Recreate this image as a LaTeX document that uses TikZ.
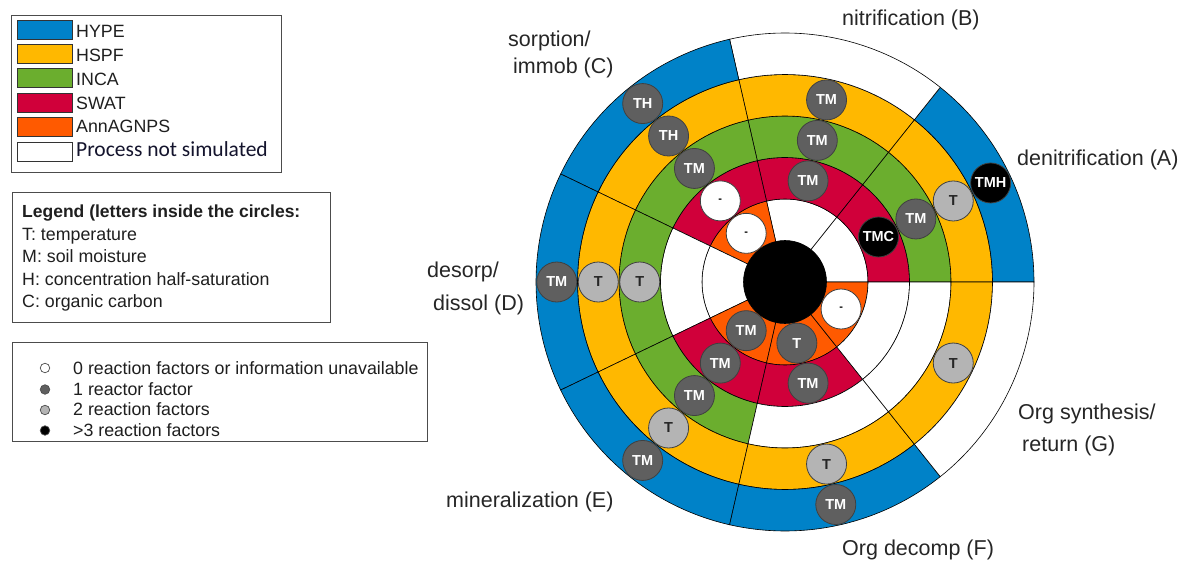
\documentclass[tikz,border=0pt]{standalone}
\usepackage{fontspec}
\setmainfont{Liberation Sans}
\newfontfamily\carl{Carlito}
\definecolor{hype}{RGB}{0,130,200}
\definecolor{hspf}{RGB}{255,184,0}
\definecolor{inca}{RGB}{107,174,46}
\definecolor{swat}{RGB}{208,0,58}
\definecolor{agnps}{RGB}{255,90,0}
\definecolor{dkc}{RGB}{95,95,95}
\definecolor{ltc}{RGB}{180,180,180}
\definecolor{navyish}{RGB}{20,20,45}
\newcommand\wseg[3]{%
  \pgfmathsetmacro\angA{#1*360/7}%
  \pgfmathsetmacro\angB{(#1+1)*360/7}%
  \pgfmathsetmacro\radA{41.5*#2}%
  \pgfmathsetmacro\radB{41.5*(#2+1)}%
  \filldraw[fill=#3, draw=black, line width=0.6pt] (\angA:\radA pt) arc[start angle=\angA, end angle=\angB, radius=\radA pt] -- (\angB:\radB pt) arc[start angle=\angB, end angle=\angA, radius=\radB pt] -- cycle;}
\begin{document}
\begin{tikzpicture}[x=1pt,y=-1pt,
  lbl/.style={anchor=base west, inner sep=0, font=\fontsize{21.5}{26}\selectfont, text=black!85},
  leg/.style={anchor=base west, inner sep=0, font=\fontsize{17.8}{21}\selectfont, text=black!88},
  legbox/.style={draw=black!70, line width=1pt, anchor=north west, inner sep=0},
  swatch/.style={draw=black!80, line width=0.8pt, minimum width=55pt, minimum height=19pt, anchor=north west, inner sep=0},
  mk/.style={circle, minimum size=40pt, inner sep=0, draw=black!75, line width=0.8pt, font=\fontsize{14.5}{17}\selectfont\bfseries},
  dk/.style={mk, fill=dkc, text=white},
  lt/.style={mk, fill=ltc, text=black!85},
  bk/.style={mk, fill=black, text=white},
  wh/.style={mk, fill=white, text=black, font=\fontsize{11}{13}\selectfont\bfseries},
  dot/.style={circle, minimum size=9.5pt, inner sep=0, draw=black!70, line width=0.7pt}]
\useasboundingbox (0,0) rectangle (1187,562);
\fill[white] (0,0) rectangle (1187,562);

% ---- Legend 1
\node[legbox, minimum width=270pt, minimum height=157pt] (box1) at (11,15) {};
\node[swatch, fill=hype]  (sw1) at (17,20) {};
\node[swatch, fill=hspf]  (sw2) at (17,44.2) {};
\node[swatch, fill=inca]  (sw3) at (17,68.4) {};
\node[swatch, fill=swat]  (sw4) at (17,92.6) {};
\node[swatch, fill=agnps] (sw5) at (17,116.8) {};
\node[swatch, fill=white] (sw6) at (17,142) {};
\node[leg] (t1) at (76,37.7) {HYPE};
\node[leg] (t2) at (76,61.5) {HSPF};
\node[leg] (t3) at (76,85.3) {INCA};
\node[leg] (t4) at (76,109.1) {SWAT};
\node[leg] (t5) at (76,132.9) {AnnAGNPS};
\node[anchor=base west, inner sep=0, font=\carl\fontsize{21.5}{26}\selectfont, text=navyish] (t6) at (76,156.7) {Process not simulated};

% ---- Legend 2
\node[legbox, minimum width=318pt, minimum height=130pt] (box2) at (12,192) {};
\node[leg, font=\fontsize{17.5}{21}\selectfont\bfseries] (l0) at (22,217.3) {Legend (letters inside the circles:};
\node[leg] (l1) at (22,240) {T: temperature};
\node[leg] (l2) at (22,262.5) {M: soil moisture};
\node[leg] (l3) at (22,285) {H: concentration half-saturation};
\node[leg] (l4) at (22,307.5) {C: organic carbon};

% ---- Legend 3
\node[legbox, minimum width=415pt, minimum height=99pt] (box3) at (12,342) {};
\node[dot, fill=white] (d0) at (45,368) {};
\node[dot, fill=dkc] (d1) at (45,389.5) {};
\node[dot, fill=ltc] (d2) at (45,410) {};
\node[dot, fill=black] (d3) at (45,430.5) {};
\node[leg] (r0) at (73,374) {0 reaction factors or information unavailable};
\node[leg] (r1) at (73,395) {1 reactor factor};
\node[leg] (r2) at (73,415.5) {2 reaction factors};
\node[leg] (r3) at (73,436) {>3 reaction factors};

% ---- Polar chart
\begin{scope}[shift={(785,282)}]
\foreach \s/\ca/\cb/\cc/\cd/\ce in {0/white/swat/inca/hspf/hype, 1/white/swat/inca/hspf/white, 2/agnps/swat/inca/hspf/hype, 3/white/white/inca/hspf/hype, 4/agnps/swat/inca/hspf/hype, 5/agnps/swat/white/hspf/hype, 6/agnps/white/white/hspf/white}{
  \wseg{\s}{1}{\ca}\wseg{\s}{2}{\cb}\wseg{\s}{3}{\cc}\wseg{\s}{4}{\cd}\wseg{\s}{5}{\ce}
}
\node[circle, fill=black, minimum size=83pt, inner sep=0] (hub) at (0pt,0pt) {};
% A
\node[bk] (a2) at (25.714:103.75pt) {TMC};
\node[dk] (a3) at (25.714:145.25pt) {TM};
\node[lt] (a4) at (25.714:186.75pt) {T};
\node[bk] (a5) at (25.714:228.25pt) {TMH};
% B
\node[dk] (b2) at (77.143:103.75pt) {TM};
\node[dk] (b3) at (77.143:145.25pt) {TM};
\node[dk] (b4) at (77.143:186.75pt) {TM};
% C
\node[wh] (c1) at (128.571:62.25pt) {-};
\node[wh] (c2) at (128.571:103.75pt) {-};
\node[dk] (c3) at (128.571:145.25pt) {TM};
\node[dk] (c4) at (128.571:186.75pt) {TH};
\node[dk] (c5) at (128.571:228.25pt) {TH};
% D
\node[lt] (d3c) at (180:145.25pt) {T};
\node[lt] (d4c) at (180:186.75pt) {T};
\node[dk] (d5c) at (180:228.25pt) {TM};
% E
\node[dk] (e1) at (231.429:62.25pt) {TM};
\node[dk] (e2) at (231.429:103.75pt) {TM};
\node[dk] (e3) at (231.429:145.25pt) {TM};
\node[lt] (e4) at (231.429:186.75pt) {T};
\node[dk] (e5) at (231.429:228.25pt) {TM};
% F
\node[dk] (f1) at (281:62.25pt) {T};
\node[dk] (f2) at (282.857:103.75pt) {TM};
\node[lt] (f4) at (282.857:186.75pt) {T};
\node[dk] (f5) at (282.857:228.25pt) {TM};
% G
\node[wh] (g1) at (334.286:62.25pt) {-};
\node[lt] (g4) at (334.286:186.75pt) {T};
\end{scope}

% ---- Process labels
\node[lbl] (labB) at (842,25) {nitrification (B)};
\node[lbl] (labA) at (1017,165) {denitrification (A)};
\node[lbl] (labC1) at (508,46) {sorption/};
\node[lbl] (labC2) at (513,73) {immob (C)};
\node[lbl] (labD1) at (427,277) {desorp/};
\node[lbl] (labD2) at (433,310) {dissol (D)};
\node[lbl] (labE) at (446,507) {mineralization (E)};
\node[lbl] (labF) at (842,555) {Org decomp (F)};
\node[lbl] (labG1) at (1018,419) {Org synthesis/};
\node[lbl] (labG2) at (1022,451) {return (G)};
\end{tikzpicture}
\end{document}
